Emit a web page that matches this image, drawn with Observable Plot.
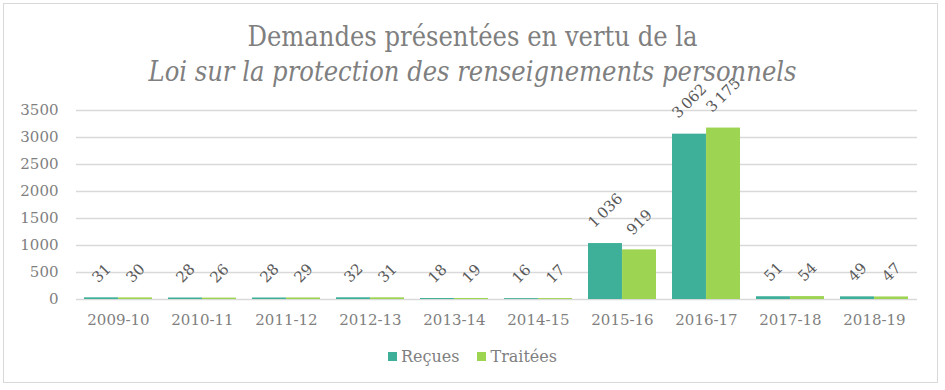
<!DOCTYPE html>
<html><head><meta charset="utf-8">
<script src="https://cdn.jsdelivr.net/npm/d3@7"></script>
<script src="https://cdn.jsdelivr.net/npm/@observablehq/plot@0.6"></script>
<style>
body{margin:0;width:945px;height:390px;position:relative;background:#fff;font-family:"DejaVu Serif",serif;overflow:hidden}
#frame{position:absolute;left:3px;top:3px;width:935px;height:380px;border:1.5px solid #d9d9d9;box-sizing:border-box}
#title{position:absolute;left:0;top:19px;width:945px;text-align:center;color:#7f7f7f;font-size:27px;line-height:35px;font-family:"DejaVu Serif Condensed","DejaVu Serif",serif;z-index:0}
#chart{position:absolute;left:0;top:50px;z-index:1}
#chart svg{overflow:visible}
#legend{position:absolute;left:0;top:347px;width:945px;text-align:center;color:#7f7f7f;font-size:16px}
#legend span.sw{display:inline-block;width:9px;height:9px;margin-right:4px;vertical-align:1px}
#legend span.it{margin:0 9px}
</style></head>
<body>
<div id="frame"></div>
<div id="title">Demandes présentées en vertu de la<br><i>Loi sur la protection des renseignements personnels</i></div>
<div id="chart"></div>
<div id="legend"></div>
<script>
const years = ["2009-10","2010-11","2011-12","2012-13","2013-14","2014-15","2015-16","2016-17","2017-18","2018-19"];
const recues = [31,28,28,32,18,16,1036,3062,51,49];
const traitees = [30,26,29,31,19,17,919,3175,54,47];
const series = ["Reçues","Traitées"];
const colors = ["#3eaf98","#9dd452"];
const yTicks = [0,500,1000,1500,2000,2500,3000,3500];

const fmt = v => v >= 1000 ? d3.format(",")(v).replace(/,/g, "\u202f") : String(v);
const dataR = years.map((y,i)=>({year:y, serie:series[0], value:recues[i]}));
const dataT = years.map((y,i)=>({year:y, serie:series[1], value:traitees[i]}));

const half = 34.05;
const labelMarks = [];
for (const [d, dx] of [[dataR, -17], [dataT, 17]]) {
  for (const len of [2,3,5]) {
    const sub = d.filter(o => fmt(o.value).length === len);
    if (!sub.length) continue;
    labelMarks.push(Plot.text(sub, {x:"year", y:"value", text: o => fmt(o.value), dx, dy: -(19 + 2.8*len), rotate:-45, textAnchor:"middle", fill:"#595959", fontSize:15}));
  }
}

const chart = Plot.plot({
  width:945, height:290,
  marginLeft:76, marginRight:28, marginTop:60, marginBottom:41,
  style:{fontFamily:"'DejaVu Serif',serif", fontSize:"15px", color:"#7f7f7f", background:"transparent"},
  x:{domain:years, paddingInner:0.19, paddingOuter:0.095, label:null, tickSize:0, tickPadding:15},
  y:{domain:[0,3500], ticks:yTicks, tickFormat:d=>String(d), label:null, tickSize:0, tickPadding:18},
  color:{domain:series, range:colors},
  marks:[
    Plot.gridY(yTicks, {stroke:"#d9d9d9", strokeOpacity:1, strokeWidth:1.5}),
    Plot.barY(dataR, {x:"year", y:"value", fill:"serie", insetRight:half}),
    Plot.barY(dataT, {x:"year", y:"value", fill:"serie", insetLeft:half}),
    ...labelMarks
  ]
});
document.getElementById("chart").appendChild(chart);

document.getElementById("legend").innerHTML = series.map((s,i)=>`<span class="it"><span class="sw" style="background:${colors[i]}"></span>${s}</span>`).join("");
</script>
</body></html>
